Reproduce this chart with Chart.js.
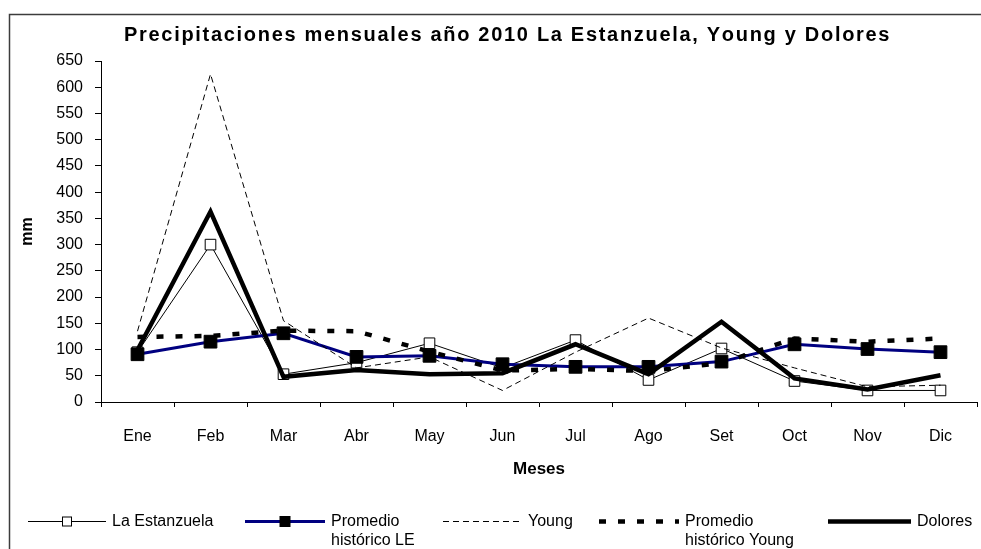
<!DOCTYPE html>
<html>
<head>
<meta charset="utf-8">
<script src="https://cdn.jsdelivr.net/npm/chart.js@4.4.1/dist/chart.umd.min.js"></script>
<style>
  html, body { margin: 0; padding: 0; background: #fff; }
  #wrap { width: 981px; height: 549px; }
</style>
</head>
<body>
<div id="wrap"><canvas id="chart" width="981" height="549"></canvas></div>
<script>
// data (mm)
const months = ["Ene", "Feb", "Mar", "Abr", "May", "Jun", "Jul", "Ago", "Set", "Oct", "Nov", "Dic"];
const laEstanzuela  = [95, 300, 53, 75, 112, 65, 118, 42, 102, 40, 22, 22];
const promedioLE    = [91, 115, 131, 86, 88, 72, 67, 67, 77, 110, 101, 95];
const young         = [135, 625, 155, 65, 86, 22, 95, 160, 103, 65, 29, 32];
const promedioYoung = [124, 126, 136, 135, 96, 60, 63, 59, 74, 121, 115, 121];
const dolores       = [99, 363, 48, 61, 53, 55, 110, 53, 153, 45, 24, 51];
const seriesLabels  = ["La Estanzuela", ["Promedio", "histórico LE"], "Young", ["Promedio", "histórico Young"], "Dolores"];
const chartTitle = "Precipitaciones mensuales año 2010 La Estanzuela, Young y Dolores";
const yMax = 650;
const yStep = 50;

const FONT = "'Liberation Sans', Arial, sans-serif";

//frame + title
const framePlugin = {
    id: "frame",
    beforeDraw(chart){
        const ctx = chart.ctx;
        ctx.save();
        ctx.strokeStyle = "#3c3c3c";
        ctx.lineWidth = 1.5;
        ctx.beginPath();
        ctx.moveTo(9.5, 549);
        ctx.lineTo(9.5, 14.5);
        ctx.lineTo(981, 14.5);
        ctx.stroke();
        ctx.restore();
    },
    afterDraw(chart){
        const ctx = chart.ctx;
        ctx.save();
        ctx.font = "bold 20px " + FONT;
        ctx.fillStyle = "#000";
        ctx.textAlign = "left";
        ctx.textBaseline = "middle";
        const w = ctx.measureText(chartTitle).width;
        const spacing = Math.max(0, (764 - w) / (chartTitle.length - 1));
        let x = 124;
        for (const ch of chartTitle) {
            ctx.fillText(ch, x, 35);
            x += ctx.measureText(ch).width + spacing;
        }
        ctx.restore();
    }
};

//legend drawn along the bottom, like the spreadsheet one
const legendPlugin = {
    id: "bottomLegend",
    afterDraw(chart){
        const ctx = chart.ctx;
        const items = [
            {x0: 28, x1: 106},
            {x0: 245, x1: 325},
            {x0: 443, x1: 522},
            {x0: 599, x1: 679},
            {x0: 828, x1: 911}
        ];
        const y = 521.5;
        ctx.save();
        chart.data.datasets.forEach((ds, i) => {
            const it = items[i];
            ctx.beginPath();
            ctx.setLineDash(ds.borderDash || []);
            ctx.lineWidth = ds.borderWidth;
            ctx.strokeStyle = ds.borderColor;
            ctx.moveTo(it.x0, y);
            ctx.lineTo(it.x1, y);
            ctx.stroke();
            ctx.setLineDash([]);
            if (ds.pointRadius > 0) {
                const s = ds.legendMarker;
                const cx = (it.x0 + it.x1) / 2;
                ctx.fillStyle = ds.pointBackgroundColor;
                ctx.fillRect(cx - s / 2, y - s / 2, s, s);
                ctx.lineWidth = 1;
                ctx.strokeStyle = "#000";
                ctx.strokeRect(cx - s / 2, y - s / 2, s, s);
            }
            ctx.fillStyle = "#000";
            ctx.font = "16px " + FONT;
            ctx.textAlign = "left";
            ctx.textBaseline = "middle";
            const lines = Array.isArray(seriesLabels[i]) ? seriesLabels[i] : [seriesLabels[i]];
            lines.forEach((t, k) => ctx.fillText(t, it.x1 + 6, y + k * 19));
        });
        ctx.restore();
    }
};

new Chart(document.getElementById("chart"), {
    type: "line",
    data: {
        labels: months,
        datasets: [
            {
                label: "La Estanzuela",
                data: laEstanzuela,
                borderColor: "#000",
                borderWidth: 1,
                pointStyle: "rect",
                pointRadius: 7.5,
                pointBackgroundColor: "#fff",
                pointBorderColor: "#000",
                pointBorderWidth: 1,
                legendMarker: 9,
                order: 4
            },
            {
                label: "Promedio histórico LE",
                data: promedioLE,
                borderColor: "#000080",
                borderWidth: 3,
                pointStyle: "rect",
                pointRadius: 9,
                pointBackgroundColor: "#000",
                pointBorderColor: "#000",
                pointBorderWidth: 1,
                legendMarker: 10,
                order: 3
            },
            {
                label: "Young",
                data: young,
                borderColor: "#000",
                borderWidth: 1,
                borderDash: [6, 4],
                pointRadius: 0,
                order: 2
            },
            {
                label: "Promedio histórico Young",
                data: promedioYoung,
                borderColor: "#000",
                borderWidth: 4.5,
                borderDash: [7, 12],
                pointRadius: 0,
                order: 1
            },
            {
                label: "Dolores",
                data: dolores,
                borderColor: "#000",
                borderWidth: 4.5,
                pointRadius: 0,
                order: 0
            }
        ]
    },
    options: {
        responsive: false,
        animation: false,
        layout: { autoPadding: false, padding: { left: 10, right: 4, top: 61, bottom: 0 } },
        elements: { line: { tension: 0, fill: false } },
        plugins: {
            legend: { display: false },
            title: { display: false },
            tooltip: { enabled: false }
        },
        scales: {
            x: {
                offset: true,
                grid: { drawOnChartArea: false, drawTicks: true, tickLength: 5, color: "#000", offset: true },
                border: { color: "#000", width: 1 },
                ticks: { color: "#000", font: { family: FONT, size: 16 }, padding: 20, maxRotation: 0, autoSkip: false },
                title: { display: true, text: "Meses", color: "#000", font: { family: FONT, size: 17, weight: "bold" }, padding: { top: 0, bottom: 69 } },
                afterFit(scale){
                    scale.height = 147;
                    scale.paddingLeft = 0;
                    scale.paddingRight = 0;
                }
            },
            y: {
                min: 0,
                max: yMax,
                grid: { drawOnChartArea: false, drawTicks: true, tickLength: 6, color: "#000" },
                border: { color: "#000", width: 1 },
                ticks: { stepSize: yStep, color: "#000", font: { family: FONT, size: 16 }, padding: 12 },
                title: { display: true, text: "mm", color: "#000", font: { family: FONT, size: 16, weight: "bold" }, padding: { top: 8, bottom: 0 } },
                afterFit(scale){ scale.width = 91; }
            }
        }
    },
    plugins: [framePlugin, legendPlugin]
});
</script>
</body>
</html>
